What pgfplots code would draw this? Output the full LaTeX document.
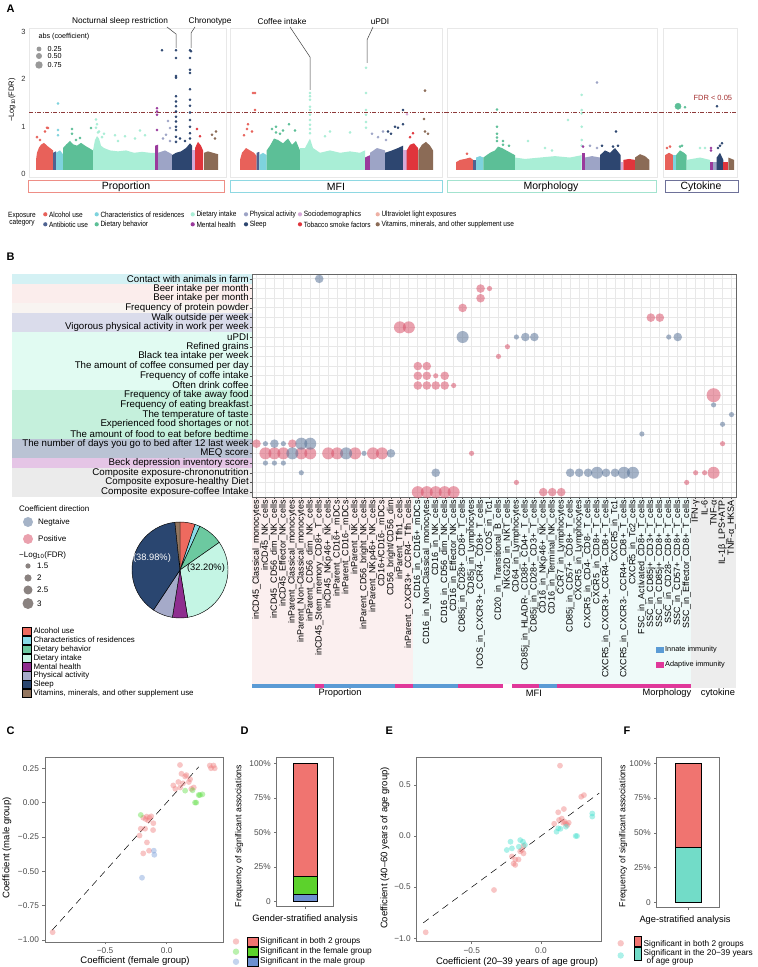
\documentclass[border=0pt]{standalone}
\usepackage{fontspec}
\setmainfont{Liberation Sans}
\newfontfamily\nar{Liberation Sans}[FakeStretch=0.86]
\usepackage{pgfplots}
\pgfplotsset{compat=1.18}
\definecolor{cAlc}{HTML}{E8615A}
\definecolor{cAnt}{HTML}{4F6391}
\definecolor{cRes}{HTML}{7ED3DD}
\definecolor{cBeh}{HTML}{5CBF97}
\definecolor{cInt}{HTML}{A9EED6}
\definecolor{cMen}{HTML}{9A3A9C}
\definecolor{cPhy}{HTML}{9DA4C6}
\definecolor{cSle}{HTML}{2D4670}
\definecolor{cSoc}{HTML}{D6A9D8}
\definecolor{cTob}{HTML}{E0353C}
\definecolor{cUV}{HTML}{EEB0A4}
\definecolor{cVit}{HTML}{8B6B56}
\definecolor{bRed}{HTML}{D9546C}
\definecolor{bBlue}{HTML}{5C7699}
\definecolor{thr}{HTML}{8E3A3A}
\definecolor{pAlc}{HTML}{EE6A5F}
\definecolor{pRes}{HTML}{8ADCE8}
\definecolor{pBeh}{HTML}{6CC9A0}
\definecolor{pInt}{HTML}{C4F5E4}
\definecolor{pMen}{HTML}{8E2E8F}
\definecolor{pPhy}{HTML}{A5AAC9}
\definecolor{pSle}{HTML}{2A4670}
\definecolor{pVit}{HTML}{93765F}
\definecolor{gRed}{HTML}{F07470}
\definecolor{gGreen}{HTML}{5CD22C}
\definecolor{gBlue}{HTML}{6D8FD0}
\definecolor{gCyan}{HTML}{72DCC8}
\definecolor{sPink}{HTML}{F08080}
\definecolor{sGreen}{HTML}{66E04D}
\definecolor{sBlue}{HTML}{7DA0DB}
\definecolor{sCyan}{HTML}{48E0CF}
\definecolor{innate}{HTML}{5B9BD5}
\definecolor{adapt}{HTML}{E0389A}
\definecolor{bgA}{HTML}{D4F1F4}
\definecolor{bgB}{HTML}{FBEDEC}
\definecolor{bgC}{HTML}{F8F4F1}
\definecolor{bgD}{HTML}{DADCEB}
\definecolor{bgE}{HTML}{E1FBF2}
\definecolor{bgF}{HTML}{C5F0DC}
\definecolor{bgG}{HTML}{BAC3D4}
\definecolor{bgH}{HTML}{E5C5E6}
\definecolor{bgI}{HTML}{EBEBEB}
\definecolor{bgP}{HTML}{FBEFEF}
\definecolor{bgM}{HTML}{EFFAF9}
\definecolor{bgK}{HTML}{EDEDED}
\definecolor{boxP}{HTML}{EE8E86}
\definecolor{boxM}{HTML}{8ED8E2}
\definecolor{boxO}{HTML}{A3E3CF}
\definecolor{boxC}{HTML}{6E7199}
\definecolor{sizeg}{HTML}{8A8280}
\newcommand{\fs}[1]{\fontsize{#1}{#1}\selectfont}
\pgfplotsset{
  manh/.style={scale only axis, anchor=north west, height=149pt, ymin=-0.06, ymax=3.08,
    axis line style={draw=black!9}, xtick=\empty, ytick=\empty, clip=false},
  blob/.style={fill=#1, draw=none},
  dot/.style={only marks, mark=*, mark size=1.1pt, color=#1},
  thrl/.style={thr, line width=0.6pt, dash pattern=on 4pt off 1.5pt on 1pt off 1.5pt},
  sc/.style={only marks, mark=*, mark size=2.9pt, color=#1, mark options={line width=0pt, fill opacity=0.45, draw opacity=0}},
  bub/.style 2 args={only marks, mark=*, mark size=#2, color=#1, mark options={line width=0pt, fill opacity=0.55, draw opacity=0}},
  panelCE/.style={scale only axis, anchor=north west, tick pos=left,
    tick label style={font=\fs{8.3}, text=black!70},
    axis line style={draw=black!55, line width=0.8pt}, tick style={draw=black!55, line width=0.5pt},
    tick align=outside, major tick length=2.5pt, clip=false},
  panelDF/.style={scale only axis, anchor=north west, tick pos=left, xmin=0, xmax=1,
    ybar stacked, xtick={0.5}, xticklabels={},
    ytick={0,25,50,75,100}, yticklabels={0,25\%,50\%,75\%,100\%},
    tick label style={font=\fs{8.3}, text=black!70},
    axis line style={draw=black!55, line width=0.8pt}, tick style={draw=black!55, line width=0.5pt},
    tick align=outside, major tick length=2.5pt},
}
\begin{document}
\begin{tikzpicture}[x=1pt,y=1pt]
\path[use as bounding box, fill=white] (0,0) rectangle (758,967);

% ================= PANEL A =================
\begin{axis}[manh, at={(29pt,939pt)}, width=197pt, xmin=29, xmax=226,
  ytick={0,1,2,3}, yticklabels={0,1,2,3}, y tick label style={font=\fs{7.5}, text=black!80},
  major tick length=0pt]
\addplot[blob=cAlc] coordinates {(36,0.09)(36,0.3)(37,0.45)(39,0.56)(41,0.62)(44,0.66)(47,0.6)(50,0.55)(53,0.5)(53,0.09)} --cycle;
\addplot[blob=cAnt] coordinates {(53,0.09)(53,0.45)(56,0.48)(56,0.09)} --cycle;
\addplot[blob=cRes] coordinates {(56,0.09)(56,0.45)(60,0.5)(63,0.42)(63,0.09)} --cycle;
\addplot[blob=cBeh] coordinates {(63,0.09)(63,0.55)(66,0.62)(70,0.7)(73,0.63)(77,0.6)(81,0.66)(85,0.6)(89,0.55)(93,0.5)(93,0.09)} --cycle;
\addplot[blob=cInt] coordinates {(93,0.09)(93,0.5)(95,0.72)(97,0.8)(99,0.75)(101,0.6)(104,0.55)(110,0.5)(118,0.48)(126,0.5)(134,0.45)(142,0.47)(150,0.45)(155,0.45)(155,0.09)} --cycle;
\addplot[blob=cMen] coordinates {(155,0.09)(155,0.6)(158,0.62)(158,0.09)} --cycle;
\addplot[blob=cPhy] coordinates {(158,0.09)(158,0.45)(165,0.5)(172,0.42)(172,0.09)} --cycle;
\addplot[blob=cSle] coordinates {(172,0.09)(172,0.4)(176,0.45)(181,0.48)(186,0.55)(190,0.65)(192,0.6)(192,0.09)} --cycle;
\addplot[blob=cSoc] coordinates {(192,0.09)(192,0.5)(195,0.5)(195,0.09)} --cycle;
\addplot[blob=cTob] coordinates {(195,0.09)(195,0.55)(198,0.68)(201,0.6)(203,0.5)(203,0.09)} --cycle;
\addplot[blob=cVit] coordinates {(204,0.09)(204,0.45)(208,0.48)(213,0.45)(218,0.42)(218,0.09)} --cycle;
\addplot[dot=cAlc] coordinates {(37,0.78)(45,0.9)(47,0.98)(48,0.97)(40,0.72)};
\addplot[dot=cRes] coordinates {(58,1.49)(58,0.93)(58,0.82)};
\addplot[dot=cBeh] coordinates {(72,0.95)(72,0.85)(91,0.97)(80,0.76)(76,0.72)};
\addplot[dot=cInt] coordinates {(96,1.15)(97,1.05)(96,0.98)(99,0.9)(115,0.82)(125,0.8)(140,0.92)(145,0.82)(104,0.85)(135,0.75)(118,0.7)(98,0.88)(102,0.78)};
\addplot[dot=cMen] coordinates {(157,1.39)(157,1.32)(157,1.25)(157,0.93)};
\addplot[dot=cPhy] coordinates {(168,1.12)(170,0.97)(166,0.83)(163,0.75)(170,0.7)};
\addplot[dot=cSle] coordinates {(162,2.61)(176,2.61)(176,2.45)(176,2.07)(176,2.03)(176,1.64)(176,1.53)(176,1.43)(176,1.32)(176,1.21)(176,1.11)(176,1.0)(176,0.93)(176,0.79)(176,0.68)(190,2.61)(191,2.59)(190,2.45)(190,2.2)(190,2.13)(190,1.79)(190,1.57)(190,1.44)(190,1.30)(190,1.14)(190,1.0)(190,0.86)(190,0.75)(185,0.7)(180,0.75)};
\addplot[dot=cTob] coordinates {(197,0.95)(200,0.8)};
\addplot[dot=cVit] coordinates {(212,0.83)(216,0.9)(215,0.75)};
\addplot[thrl] coordinates {(29,1.30)(228,1.30)};
\end{axis}

\begin{axis}[manh, at={(230pt,939pt)}, width=212pt, xmin=230, xmax=442]
\addplot[blob=cAlc] coordinates {(240,0.09)(240,0.3)(242,0.45)(246,0.55)(250,0.5)(254,0.45)(256.7,0.38)(256.7,0.09)} --cycle;
\addplot[blob=cAnt] coordinates {(256.7,0.09)(256.7,0.45)(259.3,0.47)(259.3,0.09)} --cycle;
\addplot[blob=cRes] coordinates {(259.3,0.09)(259.3,0.4)(263,0.45)(266.7,0.4)(266.7,0.09)} --cycle;
\addplot[blob=cBeh] coordinates {(266.7,0.09)(266.7,0.5)(270,0.6)(274,0.75)(278,0.72)(283,0.65)(288,0.75)(292,0.62)(296,0.7)(300,0.5)(300,0.09)} --cycle;
\addplot[blob=cInt] coordinates {(300,0.09)(300,0.55)(305,0.55)(310,0.75)(313,0.55)(320,0.45)(330,0.5)(340,0.45)(350,0.48)(360,0.45)(365,0.5)(365,0.09)} --cycle;
\addplot[blob=cMen] coordinates {(365,0.09)(365,0.35)(370,0.4)(370,0.09)} --cycle;
\addplot[blob=cPhy] coordinates {(370,0.09)(370,0.45)(377,0.55)(385,0.5)(385,0.09)} --cycle;
\addplot[blob=cSle] coordinates {(385,0.09)(385,0.45)(392,0.5)(398,0.55)(403,0.6)(403,0.09)} --cycle;
\addplot[blob=cSoc] coordinates {(403.3,0.09)(403.3,0.5)(406.7,0.5)(406.7,0.09)} --cycle;
\addplot[blob=cTob] coordinates {(406.7,0.09)(406.7,0.5)(410,0.62)(414,0.65)(418,0.55)(418,0.09)} --cycle;
\addplot[blob=cVit] coordinates {(418.3,0.09)(418.3,0.5)(422,0.62)(426,0.68)(430,0.6)(433,0.5)(433,0.09)} --cycle;
\addplot[dot=cAlc] coordinates {(255,1.71)(253,1.71)(255,1.35)(248,1.05)(247,0.95)(244,0.82)(252,0.9)};
\addplot[dot=cBeh] coordinates {(276,1.0)(272,0.95)(283,0.92)(289,1.05)(295,0.92)(280,0.85)(276,0.88)};
\addplot[dot=cInt] coordinates {(310,1.71)(310,1.64)(310,1.57)(310,1.42)(310,1.35)(310,1.25)(310,1.14)(310,1.04)(310,0.95)(310,0.86)(330,0.9)(350,0.88)(325,0.8)(366,2.24)(366,1.71)(366,1.35)(366,1.25)(366,1.1)(366,0.98)};
\addplot[dot=cPhy] coordinates {(372,0.85)(378,0.78)(383,0.9)(386,0.72)};
\addplot[dot=cSle] coordinates {(403,1.35)(403,1.05)(398,0.98)(391,0.85)(395,1.0)(388,0.9)};
\addplot[dot=cSoc] coordinates {(407,1.26)};
\addplot[dot=cTob] coordinates {(413,0.86)(410,0.78)};
\addplot[dot=cVit] coordinates {(425,1.76)(424,1.16)(425,0.9)(428,0.85)};
\addplot[thrl] coordinates {(228,1.30)(445,1.30)};
\end{axis}

\begin{axis}[manh, at={(447pt,939pt)}, width=210pt, xmin=447, xmax=657]
\addplot[blob=cAlc] coordinates {(456,0.09)(456,0.25)(460,0.3)(465,0.32)(470,0.35)(473.3,0.3)(473.3,0.09)} --cycle;
\addplot[blob=cAnt] coordinates {(473.3,0.09)(473.3,0.3)(476,0.3)(476,0.09)} --cycle;
\addplot[blob=cRes] coordinates {(476,0.09)(476,0.35)(480,0.38)(483.3,0.35)(483.3,0.09)} --cycle;
\addplot[blob=cBeh] coordinates {(483.3,0.09)(483.3,0.35)(490,0.45)(495,0.5)(498,0.58)(502,0.55)(508,0.48)(515,0.4)(515,0.09)} --cycle;
\addplot[blob=cInt] coordinates {(515,0.09)(515,0.35)(525,0.32)(540,0.35)(555,0.38)(570,0.35)(581.7,0.4)(581.7,0.09)} --cycle;
\addplot[blob=cMen] coordinates {(581.7,0.09)(581.7,0.45)(585,0.45)(585,0.09)} --cycle;
\addplot[blob=cPhy] coordinates {(585,0.09)(585,0.35)(592,0.38)(600,0.35)(600,0.09)} --cycle;
\addplot[blob=cSle] coordinates {(600,0.09)(600,0.4)(605,0.5)(610,0.45)(615,0.55)(620.7,0.4)(620.7,0.09)} --cycle;
\addplot[blob=cSoc] coordinates {(620.7,0.09)(620.7,0.25)(623.3,0.25)(623.3,0.09)} --cycle;
\addplot[blob=cTob] coordinates {(623.3,0.09)(623.3,0.3)(629,0.32)(635,0.3)(635,0.09)} --cycle;
\addplot[blob=cVit] coordinates {(635,0.09)(635,0.35)(640,0.42)(645,0.38)(649.3,0.3)(649.3,0.09)} --cycle;
\addplot[dot=cAlc] coordinates {(467,0.43)};
\addplot[dot=cBeh] coordinates {(497,1.36)(497,1.0)(497,0.85)(497,0.77)(497,0.7)(503,0.7)(503,0.62)(509,0.6)};
\addplot[dot=cInt] coordinates {(528,0.7)(545,0.55)(552,0.5)(568,1.14)(581.7,1.67)(581.7,1.35)(581.7,1.28)(581.7,1.0)(581.7,0.72)(581.7,0.6)};
\addplot[dot=cMen] coordinates {(583,0.58)};
\addplot[dot=cPhy] coordinates {(597,1.93)(590,0.6)(597,0.55)};
\addplot[dot=cSle] coordinates {(616,0.9)(618,0.6)(613,0.58)(602,0.6)};
\addplot[thrl] coordinates {(445,1.30)(660,1.30)};
\end{axis}

\begin{axis}[manh, at={(663pt,939pt)}, width=74pt, xmin=663, xmax=737]
\addplot[blob=cAlc] coordinates {(665,0.09)(665,0.4)(669,0.45)(673.3,0.4)(673.3,0.09)} --cycle;
\addplot[blob=cRes] coordinates {(673.3,0.09)(673.3,0.4)(676,0.4)(676,0.09)} --cycle;
\addplot[blob=cBeh] coordinates {(676,0.09)(676,0.4)(680,0.5)(684,0.45)(686.7,0.4)(686.7,0.09)} --cycle;
\addplot[blob=cInt] coordinates {(686.7,0.09)(686.7,0.3)(700,0.35)(710,0.3)(710,0.09)} --cycle;
\addplot[blob=cMen] coordinates {(710,0.09)(710,0.25)(713,0.25)(713,0.09)} --cycle;
\addplot[blob=cPhy] coordinates {(713,0.09)(713,0.25)(716.7,0.25)(716.7,0.09)} --cycle;
\addplot[blob=cSle] coordinates {(716.7,0.09)(716.7,0.35)(720,0.45)(723.3,0.3)(723.3,0.09)} --cycle;
\addplot[blob=cTob] coordinates {(723.3,0.09)(723.3,0.25)(728.3,0.25)(728.3,0.09)} --cycle;
\addplot[blob=cVit] coordinates {(728.3,0.09)(728.3,0.35)(734,0.3)(734,0.09)} --cycle;
\addplot[only marks, mark=*, mark size=3.1pt, color=cBeh] coordinates {(678,1.43)};
\addplot[dot=cBeh] coordinates {(685,1.41)(680,0.58)(682,0.6)};
\addplot[dot=cSle] coordinates {(717,1.43)(720,0.6)(722,0.65)(718,0.55)};
\addplot[dot=cAlc] coordinates {(667,0.55)(670,0.58)};
\addplot[dot=cInt] coordinates {(700,0.55)(705,0.55)};
\addplot[dot=cMen] coordinates {(711,0.55)(711,0.5)};
\addplot[thrl] coordinates {(660,1.30)(737,1.30)};
\end{axis}

% ================= PANEL B backgrounds =================
\begin{scope}[yshift=967pt, yscale=-1]
\fill[bgA] (12,274) rectangle (252,283.7);
\fill[bgB] (12,283.7) rectangle (252,303.1);
\fill[bgC] (12,303.1) rectangle (252,312.8);
\fill[bgD] (12,312.8) rectangle (252,332.2);
\fill[bgE] (12,332.2) rectangle (252,390.4);
\fill[bgF] (12,390.4) rectangle (252,438.8);
\fill[bgG] (12,438.8) rectangle (252,458.2);
\fill[bgH] (12,458.2) rectangle (252,467.9);
\fill[bgI] (12,467.9) rectangle (252,497);
\fill[bgP] (252,497) rectangle (413.3,684);
\fill[bgM] (413.3,497) rectangle (691.2,684);
\fill[bgK] (691.2,497) rectangle (736,688);
\fill[innate] (252,684) rectangle (314.7,688);
\fill[adapt] (314.7,684) rectangle (323.7,688);
\fill[innate] (323.7,684) rectangle (395.4,688);
\fill[adapt] (395.4,684) rectangle (413.3,688);
\fill[innate] (413.3,684) rectangle (458.1,688);
\fill[adapt] (458.1,684) rectangle (503.0,688);
\fill[adapt] (511.9,684) rectangle (538.8,688);
\fill[innate] (538.8,684) rectangle (556.8,688);
\fill[adapt] (556.8,684) rectangle (691.2,688);
\end{scope}

% ================= PANEL B axis =================
\begin{axis}[scale only axis, anchor=north west, at={(252pt,693pt)}, width=484pt, height=223pt,
  xmin=0.5, xmax=54.5, ymin=0.5, ymax=23.5, y dir=reverse,
  xtick={1,...,54}, ytick={1,...,23}, tick pos=left,
  grid=major, major grid style={draw=black!9, line width=0.9pt},
  axis line style={draw=black!60, line width=0.7pt},
  tick style={draw=black!70, line width=0.4pt}, major tick length=2pt, tick align=outside,
  xticklabels={inCD45\_Classical\_monocytes,inCD45\_NK\_cells,inCD45\_CD56\_dim\_NK\_cells,inCD45\_Effector\_NK\_cells,inParent\_Classical\_monocytes,inParent\_Non-Classical\_monocytes,inParent\_CD56\_dim\_NK\_cells,inCD45\_Stem\_memory\_CD8+\_T\_cells,inCD45\_NKp46+\_NK\_cells,inParent\_CD16+\_mDCs,inParent\_CD16-\_mDCs,inParent\_NK\_cells,inParent\_CD56\_bright\_NK\_cells,inParent\_NKp46+\_NK\_cells,CD16+/CD16-\_mDCs,CD56\_bright/CD56\_dim,inParent\_Tfh1\_cells,inParent\_CXCR3+\_CCR4-\_Tfh\_cells,CD16\_in\_CD16+\_mDCs,CD16\_in\_Non-Classical\_monocytes,CD16\_in\_NK\_cells,CD16\_in\_CD56\_dim\_NK\_cells,CD16\_in\_Effector\_NK\_cells,CD85j\_in\_CD28+\_CD8+\_T\_cells,CD85j\_in\_Lymphocytes,ICOS\_in\_CXCR3+\_CCR4-\_CD8+\_T\_cells,ICOS\_in\_Tc1,CD20\_in\_Transitional\_B\_cells,NKG2D\_in\_NKT\_cells,CD64\_in\_Lymphocytes,CD85j\_in\_HLADR-\_CD38+\_CD4+\_T\_cells,CD85j\_in\_CD28+\_CD3+\_T\_cells,CD16\_in\_NKp46+\_NK\_cells,CD16\_in\_Terminal\_NK\_cells,CCR7\_in\_Lymphocytes,CD85j\_in\_CD57+\_CD8+\_T\_cells,CXCR5\_in\_Lymphocytes,CXCR5\_in\_CD4-\_CD8-\_T\_cells,CXCR5\_in\_CD8+\_T\_cells,CXCR5\_in\_CXCR3+\_CCR4-\_CD8+\_T\_cells,CXCR5\_in\_Tc1,CXCR5\_in\_CXCR3-\_CCR4+\_CD8+\_T\_cells,CXCR5\_in\_Tc2\_cells,FSC\_in\_Activated\_CD8+\_T\_cells,SSC\_in\_CD85j+\_CD3+\_T\_cells,SSC\_in\_CD85j+\_CD8+\_T\_cells,SSC\_in\_CD28-\_CD8+\_T\_cells,SSC\_in\_CD57+\_CD8+\_T\_cells,SSC\_in\_Effector\_CD8+\_T\_cells,IFN-γ,IL-6,TNF-α,IL-1β\_LPS+ATP,TNF-α\_HKSA},
  x tick label style={rotate=90, anchor=east, font=\fs{9}, inner sep=1pt},
  yticklabels={Contact with animals in farm,Beer intake per month,Beer intake per month,Frequency of protein powder,Walk outside per week,Vigorous physical activity in work per week,uPDI,Refined grains,Black tea intake per week,The amount of coffee consumed per day,Frequency of coffe intake,Often drink coffee,Frequency of take away food,Frequency of eating breakfast,The temperature of taste,Experienced food shortages or not,The amount of food to eat before bedtime,The number of days you go to bed after 12 last week,MEQ score,Beck depression inventory score,Composite exposure-chrononutrition,Composite exposure-healthy Diet,Composite exposure-coffee Intake},
  y tick label style={font=\fs{9.7}, inner sep=1pt},
  clip=false]
\addplot[bub={bRed}{2.6pt}] coordinates {(27,2)(29,8)(28,9)(21,11)(23,12)(53,18)(25,19)(50,21)(51,21)(30,22)(49,22)};
\addplot[bub={bRed}{4.3pt}] coordinates {(26,2)(26,3)(24,4)(45,5)(46,5)(19,10)(20,10)(19,11)(20,11)(22,11)(19,12)(20,12)(21,12)(22,12)(1,18)(5,18)(33,23)(34,23)(35,23)};
\addplot[bub={bRed}{6pt}] coordinates {(17,6)(18,6)(2,19)(3,19)(4,19)(6,19)(7,19)(9,19)(10,19)(12,19)(14,19)(15,19)(52,21)(19,23)(20,23)(21,23)(22,23)(23,23)};
\addplot[bub={bRed}{7pt}] coordinates {(52,13)};
\addplot[bub={bBlue}{2.6pt}] coordinates {(30,7)(47,7)(52,14)(54,15)(53,16)(44,17)(2,18)(4,18)(13,19)(2,20)(3,20)(4,20)(6,21)};
\addplot[bub={bBlue}{4.3pt}] coordinates {(8,1)(31,7)(32,7)(48,7)(3,18)(16,19)(21,21)(36,21)(37,21)(38,21)(40,21)(41,21)};
\addplot[bub={bBlue}{6pt}] coordinates {(24,7)(6,18)(7,18)(5,19)(11,19)(39,21)(42,21)(43,21)};
\end{axis}

% ================= PIE =================
\begin{axis}[scale only axis, anchor=center, at={(180pt,397pt)}, width=96pt, height=96pt,
  xmin=-1, xmax=1, ymin=-1, ymax=1, hide axis, clip=false]
\filldraw[fill=pAlc, draw=black, line width=0.45pt] (axis cs:0,0) -- ++(90:48pt) arc[start angle=90, end angle=71.69, radius=48pt] -- cycle;
\filldraw[fill=pRes, draw=black, line width=0.45pt] (axis cs:0,0) -- ++(71.69:48pt) arc[start angle=71.69, end angle=65.59, radius=48pt] -- cycle;
\filldraw[fill=pBeh, draw=black, line width=0.45pt] (axis cs:0,0) -- ++(65.59:48pt) arc[start angle=65.59, end angle=35.08, radius=48pt] -- cycle;
\filldraw[fill=pInt, draw=black, line width=0.45pt] (axis cs:0,0) -- ++(35.08:48pt) arc[start angle=35.08, end angle=-80.85, radius=48pt] -- cycle;
\filldraw[fill=pMen, draw=black, line width=0.45pt] (axis cs:0,0) -- ++(-80.85:48pt) arc[start angle=-80.85, end angle=-99.15, radius=48pt] -- cycle;
\filldraw[fill=pPhy, draw=black, line width=0.45pt] (axis cs:0,0) -- ++(-99.15:48pt) arc[start angle=-99.15, end angle=-123.56, radius=48pt] -- cycle;
\filldraw[fill=pSle, draw=black, line width=0.45pt] (axis cs:0,0) -- ++(-123.56:48pt) arc[start angle=-123.56, end angle=-263.9, radius=48pt] -- cycle;
\filldraw[fill=pVit, draw=black, line width=0.45pt] (axis cs:0,0) -- ++(-263.9:48pt) arc[start angle=-263.9, end angle=-270, radius=48pt] -- cycle;
\end{axis}

% ================= PANEL C =================
\begin{axis}[panelCE, at={(45pt,210pt)}, width=178pt, height=185pt,
  xmin=-0.987, xmax=0.457, ymin=-1.015, ymax=0.332,
  xtick={-0.5,0}, xticklabels={−0.5,0.0},
  ytick={-1,-0.75,-0.5,-0.25,0,0.25}, yticklabels={−1.00,−0.75,−0.50,−0.25,0.00,0.25}]
\addplot[black, line width=0.5pt, dash pattern=on 7pt off 5pt] coordinates {(-0.93,-0.93)(0.26,0.26)};
\addplot[sc=sPink] coordinates {(-0.925,-0.944)(0.108,0.274)(0.12,0.21)(0.16,0.20)(0.095,0.15)(0.133,0.14)(0.19,0.17)(0.22,0.11)(0.11,0.11)(0.15,0.19)(0.18,0.15)(0.054,0.125)(0.07,0.10)(0.20,0.10)(0.35,0.27)(0.38,0.27)(0.36,0.25)(0.39,0.25)(-0.162,-0.102)(-0.125,-0.10)(-0.19,-0.11)(-0.15,-0.13)(-0.21,-0.19)(-0.175,-0.19)(-0.108,-0.15)(-0.11,-0.20)(-0.22,-0.24)(-0.16,-0.29)(-0.19,-0.37)(-0.143,-0.35)(-0.14,-0.11)(-0.17,-0.12)};
\addplot[sc=sGreen] coordinates {(0.15,0.087)(0.21,0.09)(0.26,0.055)(0.29,0.06)(0.27,0.055)(0.24,0.0)(0.23,0.0)(-0.21,-0.09)};
\addplot[sc=sBlue] coordinates {(-0.104,-0.35)(-0.10,-0.38)(-0.20,-0.547)};
\end{axis}

% ================= PANEL D =================
\begin{axis}[panelDF, at={(276.7pt,210pt)}, width=56.6pt, height=149.7pt,
  ymin=-3.6, ymax=104.6, bar width=24pt]
\addplot[fill=gBlue, draw=black, line width=0.5pt] coordinates {(0.5,5.08)};
\addplot[fill=gGreen, draw=black, line width=0.5pt] coordinates {(0.5,13.56)};
\addplot[fill=gRed, draw=black, line width=0.5pt] coordinates {(0.5,81.36)};
\end{axis}

% ================= PANEL E =================
\begin{axis}[panelCE, at={(416.7pt,209.3pt)}, width=185pt, height=184pt,
  xmin=-0.897, xmax=0.438, ymin=-1.034, ymax=0.766,
  xtick={-0.5,0}, xticklabels={−0.5,0.0},
  ytick={-1,-0.5,0,0.5}, yticklabels={−1.0,−0.5,0.0,0.5}]
\addplot[black, line width=0.5pt, dash pattern=on 7pt off 5pt] coordinates {(-0.85,-0.85)(0.42,0.42)};
\addplot[sc=sPink] coordinates {(-0.832,-0.942)(-0.339,-0.528)(0.137,0.688)(0.29,0.384)(0.31,0.40)(0.124,0.232)(0.165,0.264)(0.15,0.17)(0.095,0.12)(0.17,0.14)(0.18,0.12)(0.13,0.157)(0.19,0.107)(0.16,0.13)(0.2,0.13)(-0.21,-0.20)(-0.186,-0.23)(-0.162,-0.23)(-0.186,-0.283)(-0.198,-0.27)(-0.138,-0.137)(-0.126,-0.170)(-0.126,-0.097)(-0.15,-0.15)};
\addplot[sc=sCyan] coordinates {(-0.22,-0.056)(-0.247,-0.137)(-0.21,-0.121)(-0.15,-0.04)(-0.13,-0.056)(-0.16,-0.105)(-0.116,-0.088)(0.124,0.075)(0.112,0.042)(0.18,0.091)(0.25,0.0)(0.26,0.0)(0.37,0.22)(0.37,0.19)(0.14,0.07)};
\end{axis}

% ================= PANEL F =================
\begin{axis}[panelDF, at={(656.7pt,210pt)}, width=62.6pt, height=150.7pt,
  ymin=-3.9, ymax=104.5, bar width=26pt]
\addplot[fill=gCyan, draw=black, line width=0.5pt] coordinates {(0.5,39.66)};
\addplot[fill=gRed, draw=black, line width=0.5pt] coordinates {(0.5,60.34)};
\end{axis}

% ================= TEXT & DECORATIONS =================
\begin{scope}[yshift=967pt, yscale=-1]
\node[font=\bfseries\fs{11}, anchor=west] at (3,9) {A};
\node[font=\bfseries\fs{11}, anchor=west] at (3,257) {B};
\node[font=\bfseries\fs{11}, anchor=west] at (3,731) {C};
\node[font=\bfseries\fs{11}, anchor=west] at (237,731) {D};
\node[font=\bfseries\fs{11}, anchor=west] at (382,731) {E};
\node[font=\bfseries\fs{11}, anchor=west] at (620,731) {F};
\node[rotate=90, font=\fs{7.5}] at (12,100) {−Log\textsubscript{10}(FDR)};
\node[font=\fs{8.3}] at (120,21) {Nocturnal sleep restriction};
\node[font=\fs{8.3}] at (210,21) {Chronotype};
\node[font=\fs{8.3}] at (282,22) {Coffee intake};
\node[font=\fs{8.3}] at (380,22) {uPDI};
\draw[black!75, line width=0.5pt] (167,27)--(176,34)--(176,48);
\draw[black!75, line width=0.5pt] (195,27)--(191,33)--(191,48);
\draw[black!75, line width=0.5pt] (290,27)--(310,57)--(310,90);
\draw[black!75, line width=0.5pt] (373,27)--(367,40)--(367,63);
\node[font=\fs{7.5}, text=thr!80!red, anchor=west] at (690,97.5) {FDR < 0.05};
\node[font=\fs{7.2}, anchor=west] at (35,37) {abs (coefficient)};
\fill[gray!80] (39,49) circle (2.4);
\fill[gray!80] (39,56) circle (3.0);
\fill[gray!80] (39,65) circle (3.7);
\node[font=\fs{7.2}, anchor=west] at (44,49) {0.25};
\node[font=\fs{7.2}, anchor=west] at (44,56.5) {0.50};
\node[font=\fs{7.2}, anchor=west] at (44,65) {0.75};
\draw[boxP, line width=0.8pt] (28,180.5) rectangle (224,192);
\draw[boxM, line width=0.8pt] (230,180.5) rectangle (442,192);
\draw[boxO, line width=0.8pt] (447,180.5) rectangle (656,192);
\draw[boxC, line width=0.8pt] (665,180.5) rectangle (738,192);
\node[font=\fs{10.5}] at (126,186.5) {Proportion};
\node[font=\fs{10.5}] at (336,186.5) {MFI};
\node[font=\fs{10.5}] at (551,186.5) {Morphology};
\node[font=\fs{10.5}] at (701,186.5) {Cytokine};
\node[font=\nar\fs{7.6}, align=center] at (22,219.3) {Exposure\\[-0.5pt]category};
\foreach \c/\x/\y/\t in {cAlc/45.3/214.3/Alcohol use, cAnt/45.3/224.3/Antibiotic use,
  cRes/96.7/214.3/Characteristics of residences, cBeh/96.7/224.3/Dietary behavior,
  cInt/192.7/214.3/Dietary intake, cMen/192.7/224.3/Mental health,
  cPhy/246/214.3/Physical activity, cSle/246/224.3/Sleep,
  cSoc/300/214.3/Sociodemographics, cTob/300/224.3/Tobacco smoke factors,
  cUV/377.7/214.3/Ultraviolet light exposures}{
  \fill[\c] (\x,\y) circle (2.1);
  \node[font=\nar\fs{7.6}, anchor=west, inner sep=0pt] at (\x+3.6,\y) {\t};
}
\fill[cVit] (377.7,224.3) circle (2.1);
\node[font=\nar\fs{7.6}, anchor=west, inner sep=0pt] at (381.3,224.3) {Vitamins, minerals, and other supplement use};
\node[font=\fs{9.3}] at (340,693.5) {Proportion};
\node[font=\fs{9.3}] at (534,693.5) {MFI};
\node[font=\fs{9.3}] at (667,693.5) {Morphology};
\node[font=\fs{9.3}] at (718,693.5) {cytokine};
\fill[innate] (656,647) rectangle (664,653);
\fill[adapt] (656,662) rectangle (664,668);
\node[font=\fs{7.3}, anchor=west, inner sep=0pt] at (665,650) {Innate immunity};
\node[font=\fs{7.3}, anchor=west, inner sep=0pt] at (665,665) {Adaptive immunity};
\node[font=\fs{9.3}, text=white] at (152,558) {(38.98\%)};
\node[font=\fs{9.3}] at (206,568) {(32.20\%)};
\node[font=\fs{8}, anchor=west, inner sep=0pt] at (19,509) {Coefficient direction};
\fill[bBlue, fill opacity=0.55] (28,522) circle (5);
\fill[bRed, fill opacity=0.55] (28,539) circle (5);
\node[font=\fs{8}, anchor=west, inner sep=0pt] at (38,522) {Negtaive};
\node[font=\fs{8}, anchor=west, inner sep=0pt] at (38,539) {Positive};
\node[font=\fs{8}, anchor=west, inner sep=0pt] at (19,555) {−Log\textsubscript{10}(FDR)};
\fill[sizeg] (28,566) circle (2.6);
\fill[sizeg] (28,578) circle (3.6);
\fill[sizeg] (28,590) circle (4.5);
\fill[sizeg] (28,603.5) circle (5.5);
\node[font=\fs{8}, anchor=west, inner sep=0pt] at (37,566) {1.5};
\node[font=\fs{8}, anchor=west, inner sep=0pt] at (37,578) {2};
\node[font=\fs{8}, anchor=west, inner sep=0pt] at (37,590) {2.5};
\node[font=\fs{8}, anchor=west, inner sep=0pt] at (37,603.5) {3};
\foreach \c/\y/\t in {pAlc/631/Alcohol use, pRes/640/Characteristics of residences,
  pBeh/649/Dietary behavior, pInt/658/Dietary intake, pMen/666.5/Mental health,
  pPhy/675.5/Physical activity, pSle/684/Sleep}{
  \filldraw[fill=\c, draw=black, line width=0.3pt] (22.5,\y-4.2) rectangle (31,\y+4.2);
  \node[font=\fs{7.9}, anchor=west, inner sep=0pt] at (33.3,\y) {\t};
}
\filldraw[fill=pVit, draw=black, line width=0.3pt] (22.5,688.8) rectangle (31,697.2);
\node[font=\fs{7.9}, anchor=west, inner sep=0pt] at (33.3,693) {Vitamins, minerals, and other supplement use};
\node[font=\fs{9.5}] at (135,961) {Coefficient (female group)};
\node[font=\fs{9.5}, rotate=90] at (7,848) {Coefficient (male group)};
\node[font=\fs{8.7}, rotate=90] at (239,836) {Frequency of significant associations};
\node[font=\fs{9.3}] at (305,919.5) {Gender-stratified analysis};
\fill[sPink, fill opacity=0.45] (236,941.5) circle (3.2);
\fill[sGreen, fill opacity=0.45] (236,951.7) circle (3.2);
\fill[sBlue, fill opacity=0.45] (236,961.8) circle (3.2);
\filldraw[fill=gRed, draw=black, line width=0.5pt] (247.3,937) rectangle (258.3,946.5);
\filldraw[fill=gGreen, draw=black, line width=0.5pt] (247.3,947) rectangle (258.3,956.5);
\filldraw[fill=gBlue, draw=black, line width=0.5pt] (247.3,957) rectangle (258.3,966);
\node[font=\fs{8.3}, anchor=west, inner sep=0pt] at (260,941.7) {Significant in both 2 groups};
\node[font=\fs{8.3}, anchor=west, inner sep=0pt] at (260,951.7) {Significant in the female group};
\node[font=\fs{8.3}, anchor=west, inner sep=0pt] at (260,961.5) {Significant in the male group};
\node[font=\fs{9.5}] at (517,961.7) {Coefficient (20–39 years of age group)};
\node[font=\fs{9.5}, rotate=90] at (385,848) {Coefficient (40–60 years of age group)};
\node[font=\fs{8.7}, rotate=90] at (623,836) {Frequency of significant associations};
\node[font=\fs{9.3}] at (685,920) {Age-stratified analysis};
\fill[sPink, fill opacity=0.45] (620.7,943.3) circle (3.2);
\fill[sCyan, fill opacity=0.45] (620.7,955.5) circle (3.2);
\filldraw[fill=gRed, draw=black, line width=0.5pt] (634,936.7) rectangle (641.7,946.5);
\filldraw[fill=gCyan, draw=black, line width=0.5pt] (634,947.5) rectangle (641.7,960.5);
\node[font=\fs{8.3}, anchor=west, inner sep=0pt] at (643.5,944.3) {Significant in both 2 groups};
\node[font=\fs{8.3}, anchor=west, inner sep=0pt] at (643.5,953.3) {Significant in the 20−39 years};
\node[font=\fs{8.3}, anchor=west, inner sep=0pt] at (646.5,961.3) {of age group};
\end{scope}
\end{tikzpicture}
\end{document}
